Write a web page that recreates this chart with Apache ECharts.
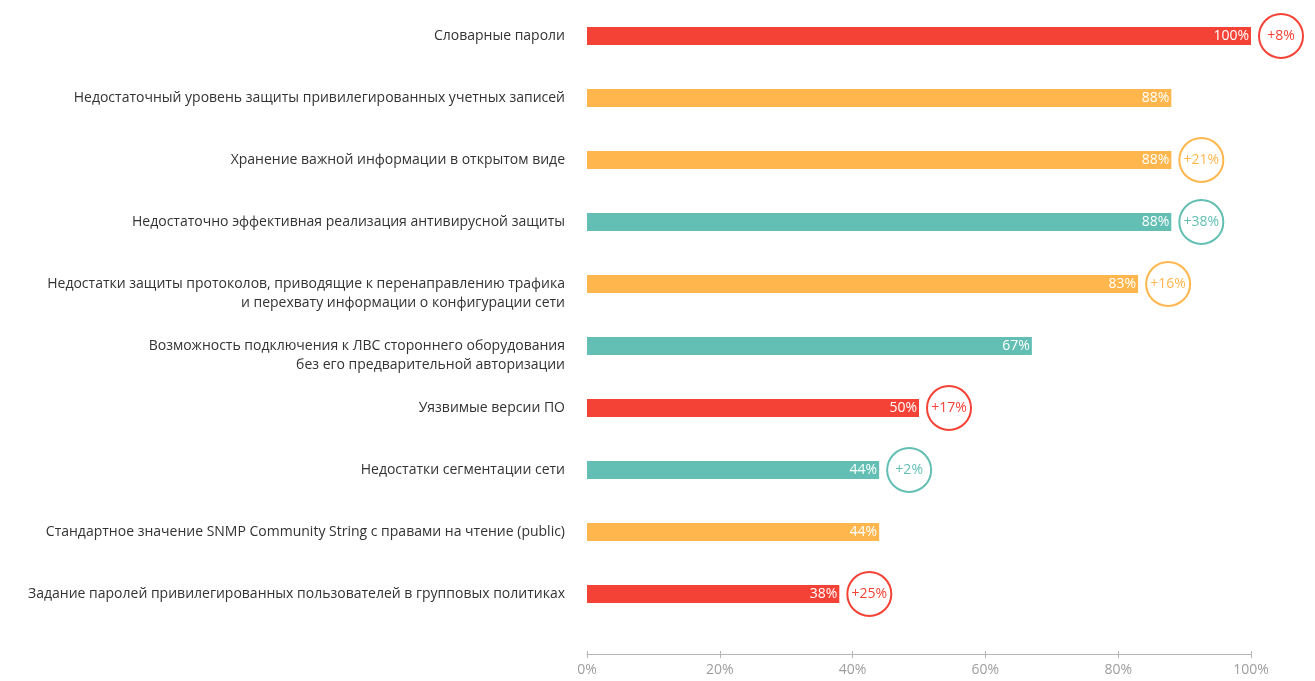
<!DOCTYPE html>
<html>
<head>
<meta charset="utf-8">
<script src="https://cdn.jsdelivr.net/npm/echarts@6/dist/echarts.min.js"></script>
<style>
  html, body { margin: 0; padding: 0; background: #ffffff; }
  #chart { width: 1315px; height: 681px; }
</style>
</head>
<body>
<div id="chart"></div>
<script>
// Categories, top to bottom
const categories = [
  'Словарные пароли',
  'Недостаточный уровень защиты привилегированных учетных записей',
  'Хранение важной информации в открытом виде',
  'Недостаточно эффективная реализация антивирусной защиты',
  'Недостатки защиты протоколов, приводящие к перенаправлению трафика\nи перехвату информации о конфигурации сети',
  'Возможность подключения к ЛВС стороннего оборудования\nбез его предварительной авторизации',
  'Уязвимые версии ПО',
  'Недостатки сегментации сети',
  'Стандартное значение SNMP Community String с правами на чтение (public)',
  'Задание паролей привилегированных пользователей в групповых политиках'
];
// Share of systems, %
const values = [100, 88, 88, 88, 83, 67, 50, 44, 44, 38];
// Change in percentage points (null = no change shown)
const deltas = [8, null, 21, 38, 16, null, 17, 2, null, 25];
// Risk level per category
const levels = ['high', 'medium', 'medium', 'low', 'medium', 'low', 'high', 'low', 'medium', 'high'];
const xTicks = [0, 20, 40, 60, 80, 100];

const palette = { high: '#f44336', medium: '#ffb74d', low: '#63bfb4' };
const FONT = '"Open Sans", sans-serif';
const AXIS_GREY = '#b5b5b5';

const barData = values.map((v, i) => ({
  value: v,
  itemStyle: { color: palette[levels[i]] }
}));

const circleData = [];
deltas.forEach((d, i) => {
  if (d === null) return;
  const c = palette[levels[i]];
  circleData.push({
    value: [values[i], i, d],
    itemStyle: { color: '#ffffff', borderColor: c, borderWidth: 2, opacity: 1 },
    label: { color: c }
  });
});

const xBase = {
  type: 'value',
  min: xTicks[0],
  max: xTicks[xTicks.length - 1],
  interval: 20,
  offset: 29,
  splitLine: { show: false }
};

const chart = echarts.init(document.getElementById('chart'), null, { renderer: 'canvas' });
chart.setOption({
  animation: false,
  textStyle: { fontFamily: FONT },
  grid: { left: 587, right: 64, top: 5, bottom: 56, containLabel: false },
  xAxis: [
    Object.assign({}, xBase, {
      axisLine: { show: true, lineStyle: { color: AXIS_GREY, width: 1 } },
      axisTick: { show: true, length: 4, lineStyle: { color: AXIS_GREY } },
      axisLabel: { color: '#9e9e9e', fontSize: 14, fontFamily: FONT, margin: 9, formatter: '{value}%' }
    }),
    // upper half of the tick marks, so they cross the axis line
    Object.assign({}, xBase, {
      position: 'bottom',
      axisLine: { show: false },
      axisTick: { show: true, inside: true, length: 3, lineStyle: { color: AXIS_GREY } },
      axisLabel: { show: false }
    })
  ],
  yAxis: {
    type: 'category',
    inverse: true,
    data: categories,
    axisLine: { show: false },
    axisTick: { show: false },
    axisLabel: {
      color: '#333333',
      fontSize: 14,
      fontFamily: FONT,
      margin: 22,
      lineHeight: 19,
      align: 'right',
      // two-line labels keep their first line level with the bar
      formatter: (s) => (s.indexOf('\n') >= 0 ? '\n' + s : s)
    }
  },
  series: [
    {
      type: 'bar',
      data: barData,
      barWidth: 18,
      label: {
        show: true,
        position: 'insideRight',
        distance: 2,
        color: '#ffffff',
        fontSize: 14,
        fontFamily: FONT,
        formatter: '{c}%'
      }
    },
    {
      type: 'scatter',
      data: circleData,
      symbol: 'circle',
      symbolSize: 44,
      symbolOffset: [30, 0],
      z: 3,
      itemStyle: { opacity: 1 },
      label: {
        show: true,
        position: 'inside',
        fontSize: 14,
        fontFamily: FONT,
        formatter: (p) => '+' + p.value[2] + '%'
      }
    }
  ]
});
</script>
</body>
</html>
